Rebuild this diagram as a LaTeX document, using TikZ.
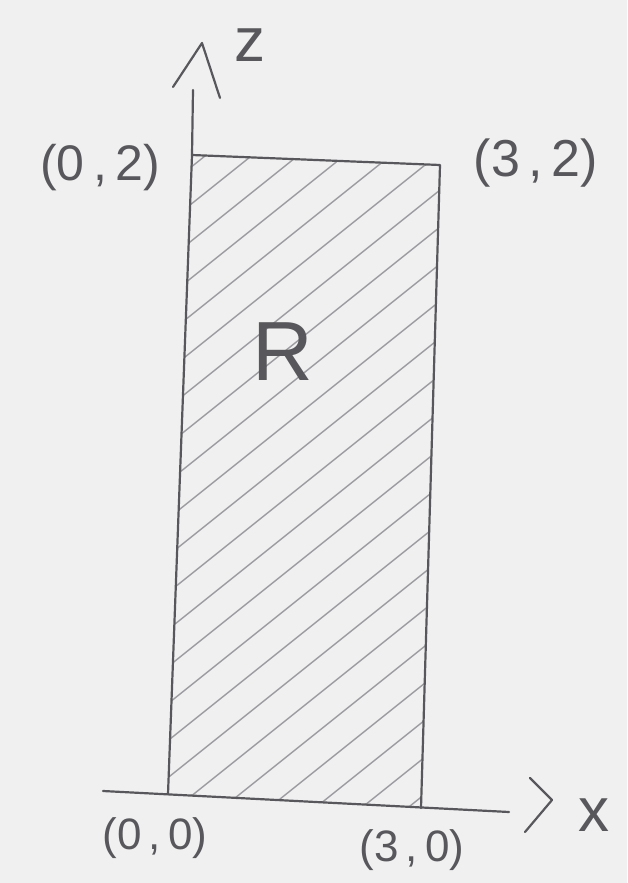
\documentclass[tikz,border=0pt]{standalone}
\usepackage{fontspec}
\setmainfont{Liberation Sans}
\definecolor{paper}{RGB}{240,240,241}
\definecolor{penc}{RGB}{88,88,92}
\definecolor{hatchc}{RGB}{155,155,160}
\begin{document}
\begin{tikzpicture}[x=1pt,y=-1pt,
  pencil/.style={draw=penc, line width=2.2pt, line cap=round, line join=round},
  hatchline/.style={draw=hatchc, line width=1.4pt},
  lbl/.style={text=penc, inner sep=0pt}]
\useasboundingbox (0,0) rectangle (627,883);
\fill[paper] (0,0) rectangle (627,883);
% corners and axis ends
\coordinate (TL) at (192,155);
\coordinate (TR) at (440,165);
\coordinate (BR) at (421,808);
\coordinate (BL) at (168,794);
\coordinate (ztop) at (193,90);
\coordinate (xstart) at (103,791);
\coordinate (xend) at (509,812);
% hatching
\begin{scope}
  \clip (TL) -- (TR) -- (BR) -- (BL) -- cycle;
  \foreach \c in {320,357,...,1160}
    \draw[hatchline] (140,\c-112) -- (480,\c-384);
\end{scope}
% region outline and axes
\draw[pencil] (BL) -- (TL) -- (ztop);
\draw[pencil] (TL) -- (TR) -- (BR);
\draw[pencil] (xstart) -- (xend);
% hand-drawn arrowheads
\coordinate (za) at (173,87);
\coordinate (zb) at (202,43);
\coordinate (zc) at (220,98);
\draw[pencil] (za) -- (zb) -- (zc);
\coordinate (xa) at (530,778);
\coordinate (xb) at (552,800);
\coordinate (xc) at (525,832);
\draw[pencil] (xa) -- (xb) -- (xc);
% labels
\node[lbl, font=\fontsize{50}{50}\selectfont] (l02) at (100,168) {(0\,,\,2)};
\node[lbl, font=\fontsize{52}{52}\selectfont] (l32) at (536,163) {(3\,,\,2)};
\node[lbl, font=\fontsize{84}{84}\selectfont] (R) at (283,352) {R};
\node[lbl, font=\fontsize{44}{44}\selectfont] (l00) at (155,838) {(0\,,\,0)};
\node[lbl, font=\fontsize{44}{44}\selectfont] (l30) at (412,850) {(3\,,\,0)};
\node[lbl, font=\fontsize{62}{62}\selectfont] (zl) at (250,45) {z};
\node[lbl, font=\fontsize{62}{62}\selectfont] (xl) at (594,815) {x};
\end{tikzpicture}
\end{document}
